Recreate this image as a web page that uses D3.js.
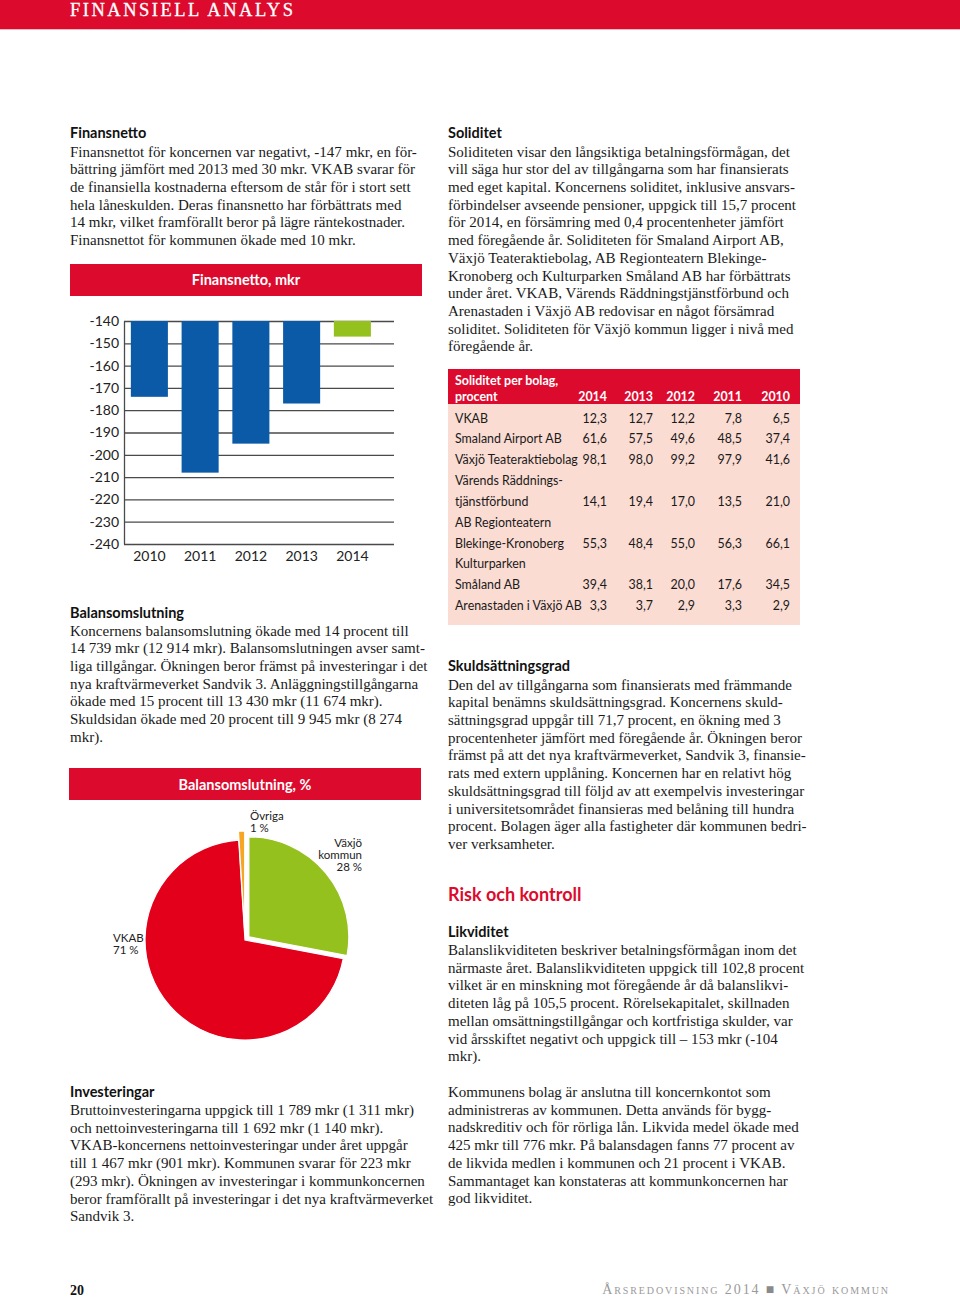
<!DOCTYPE html>
<html><head><meta charset="utf-8">
<script src="https://cdn.jsdelivr.net/npm/d3@7"></script>
<style>
html,body{margin:0;padding:0;background:#fff;}
svg{display:block;}
</style></head>
<body>
<svg id="page" width="960" height="1298"></svg>
<script>
// ---------- DATA ----------
const barYears = ["2010","2011","2012","2013","2014"];
const barValues = [-174,-208,-195,-177,-147];
const barColors = ["#0b5aa8","#0b5aa8","#0b5aa8","#0b5aa8","#95c11f"];
const yTicks = [-140,-150,-160,-170,-180,-190,-200,-210,-220,-230,-240];

const pieNames = ["Växjö kommun","VKAB","Övriga"];
const pieValues = [28,71,1];
const pieColors = ["#95c11f","#e2001a","#f6a623"];

const tableYears = ["2014","2013","2012","2011","2010"];
const tableRows = [
  ["VKAB"],
  ["Smaland Airport AB"],
  ["Växjö Teateraktiebolag"],
  ["Värends Räddnings-"],
  ["tjänstförbund"],
  ["AB Regionteatern"],
  ["Blekinge-Kronoberg"],
  ["Kulturparken"],
  ["Småland AB"],
  ["Arenastaden i Växjö AB"]
];
const tableValues = [
  ["12,3","12,7","12,2","7,8","6,5"],
  ["61,6","57,5","49,6","48,5","37,4"],
  ["98,1","98,0","99,2","97,9","41,6"],
  null,
  ["14,1","19,4","17,0","13,5","21,0"],
  null,
  ["55,3","48,4","55,0","56,3","66,1"],
  null,
  ["39,4","38,1","20,0","17,6","34,5"],
  ["3,3","3,7","2,9","3,3","2,9"]
];

const txtFinansnetto = [
"Finansnettot för koncernen var negativt, -147 mkr, en för-",
"bättring jämfört med 2013 med 30 mkr. VKAB svarar för",
"de finansiella kostnaderna eftersom de står för i stort sett",
"hela låneskulden. Deras finansnetto har förbättrats med",
"14 mkr, vilket framförallt beror på lägre räntekostnader.",
"Finansnettot för kommunen ökade med 10 mkr."];
const txtSoliditet = [
"Soliditeten visar den långsiktiga betalningsförmågan, det",
"vill säga hur stor del av tillgångarna som har finansierats",
"med eget kapital. Koncernens soliditet, inklusive ansvars-",
"förbindelser avseende pensioner, uppgick till 15,7 procent",
"för 2014, en försämring med 0,4 procentenheter jämfört",
"med föregående år. Soliditeten för Smaland Airport AB,",
"Växjö Teateraktiebolag, AB Regionteatern Blekinge-",
"Kronoberg och Kulturparken Småland AB har förbättrats",
"under året. VKAB, Värends Räddningstjänstförbund och",
"Arenastaden i Växjö AB redovisar en något försämrad",
"soliditet. Soliditeten för Växjö kommun ligger i nivå med",
"föregående år."];
const txtBalans = [
"Koncernens balansomslutning ökade med 14 procent till",
"14 739 mkr (12 914 mkr). Balansomslutningen avser samt-",
"liga tillgångar. Ökningen beror främst på investeringar i det",
"nya kraftvärmeverket Sandvik 3. Anläggningstillgångarna",
"ökade med 15 procent till 13 430 mkr (11 674 mkr).",
"Skuldsidan ökade med 20 procent till 9 945 mkr (8 274",
"mkr)."];
const txtSkuld = [
"Den del av tillgångarna som finansierats med främmande",
"kapital benämns skuldsättningsgrad. Koncernens skuld-",
"sättningsgrad uppgår till 71,7 procent, en ökning med 3",
"procentenheter jämfört med föregående år. Ökningen beror",
"främst på att det nya kraftvärmeverket, Sandvik 3, finansie-",
"rats med extern upplåning. Koncernen har en relativt hög",
"skuldsättningsgrad till följd av att exempelvis investeringar",
"i universitetsområdet finansieras med belåning till hundra",
"procent. Bolagen äger alla fastigheter där kommunen bedri-",
"ver verksamheter."];
const txtLikviditet = [
"Balanslikviditeten beskriver betalningsförmågan inom det",
"närmaste året. Balanslikviditeten uppgick till 102,8 procent",
"vilket är en minskning mot föregående år då balanslikvi-",
"diteten låg på 105,5 procent. Rörelsekapitalet, skillnaden",
"mellan omsättningstillgångar och kortfristiga skulder, var",
"vid årsskiftet negativt och uppgick till – 153 mkr (-104",
"mkr)."];
const txtInvest = [
"Bruttoinvesteringarna uppgick till 1 789 mkr (1 311 mkr)",
"och nettoinvesteringarna till 1 692 mkr (1 140 mkr).",
"VKAB-koncernens nettoinvesteringar under året uppgår",
"till 1 467 mkr (901 mkr). Kommunen svarar för 223 mkr",
"(293 mkr). Ökningen av investeringar i kommunkoncernen",
"beror framförallt på investeringar i det nya kraftvärmeverket",
"Sandvik 3."];
const txtKonto = [
"Kommunens bolag är anslutna till koncernkontot som",
"administreras av kommunen. Detta används för bygg-",
"nadskreditiv och för rörliga lån. Likvida medel ökade med",
"425 mkr till 776 mkr. På balansdagen fanns 77 procent av",
"de likvida medlen i kommunen och 21 procent i VKAB.",
"Sammantaget kan konstateras att kommunkoncernen har",
"god likviditet."];

// ---------- STYLE ----------
const RED = "#dc0a2d";
const SERIF = "'Liberation Serif','DejaVu Serif',serif";
const SANS = "Lato,'Noto Sans',sans-serif";
const svg = d3.select("#page");

function measure(text, font, size, weight){
  const t = svg.append("text").attr("font-family",font).attr("font-size",size)
    .attr("font-weight",weight||"normal").text(text);
  const w = t.node().getComputedTextLength(); t.remove(); return w;
}
const bodySize = 14 * 347 / measure(txtFinansnetto[0], SERIF, 14);
const LINE = 17.72;

// ---------- HEADER ----------
svg.append("rect").attr("x",0).attr("y",0).attr("width",960).attr("height",29).attr("fill",RED);
svg.append("rect").attr("x",0).attr("y",29).attr("width",960).attr("height",1).attr("fill","#f0b8c0");
svg.append("text").attr("x",70).attr("y",15.5).attr("fill","#fff")
  .attr("font-family",SERIF).attr("font-size",18.5).attr("letter-spacing",2.5)
  .attr("stroke","#fff").attr("stroke-width",0.3)
  .text("FINANSIELL ANALYS");

// ---------- TEXT BLOCKS ----------
function heading(x,y,t,opts){
  opts=opts||{};
  svg.append("text").attr("x",x).attr("y",y).attr("font-family",SANS)
    .attr("font-weight",700).attr("font-size",opts.size||14.5)
    .attr("fill",opts.color||"#111").text(t);
}
function para(x,y,lines){
  const g = svg.append("g").attr("font-family",SERIF).attr("font-size",bodySize).attr("fill","#1a1a1a");
  g.selectAll("text").data(lines).join("text")
    .attr("x",x).attr("y",(d,i)=>y+i*LINE).text(d=>d);
}
heading(70,138,"Finansnetto");          para(70,156.5,txtFinansnetto);
heading(448,138,"Soliditet");           para(448,156.5,txtSoliditet);
heading(70,617.5,"Balansomslutning");   para(70,635.5,txtBalans);
heading(448,671,"Skuldsättningsgrad");  para(448,689.5,txtSkuld);
heading(448,901,"Risk och kontroll",{size:18,color:RED});
heading(448,936.5,"Likviditet");        para(448,955,txtLikviditet);
heading(70,1097,"Investeringar");       para(70,1115,txtInvest);
para(448,1097,txtKonto);

// ---------- BAR CHART ----------
svg.append("rect").attr("x",70).attr("y",264).attr("width",352).attr("height",32).attr("fill",RED);
svg.append("text").attr("x",246).attr("y",285).attr("text-anchor","middle").attr("fill","#fff")
  .attr("font-family",SANS).attr("font-weight",700).attr("font-size",14.5).text("Finansnetto, mkr");

const y = d3.scaleLinear().domain([-140,-240]).range([321,544]);
const x = d3.scaleBand().domain(barYears).range([124,377.75]).paddingInner(0.27).paddingOuter(0.135);
const plotRight = 394;

const gy = svg.append("g").attr("transform","translate(124,0)")
  .call(d3.axisLeft(y).tickValues(yTicks).tickSize(-(plotRight-124)).tickSizeOuter(0).tickPadding(5).tickFormat(d=>String(d)));
gy.select(".domain").attr("stroke","#4a4a4a").attr("stroke-width",1.3);
gy.selectAll(".tick line").attr("stroke","#4a4a4a").attr("stroke-width",1.3);
gy.selectAll(".tick text").attr("font-family",SANS).attr("font-size",14).attr("fill","#222");

svg.append("g").selectAll("rect").data(barValues).join("rect")
  .attr("x",(d,i)=>x(barYears[i])).attr("width",x.bandwidth())
  .attr("y",y(-140)).attr("height",d=>y(d)-y(-140))
  .attr("fill",(d,i)=>barColors[i]);

const gx = svg.append("g").attr("transform","translate(0,547)")
  .call(d3.axisBottom(x).tickSize(0).tickPadding(4));
gx.select(".domain").remove();
gx.selectAll(".tick text").attr("font-family",SANS).attr("font-size",14).attr("fill","#222");

// ---------- PIE CHART ----------
svg.append("rect").attr("x",69).attr("y",768).attr("width",352).attr("height",32).attr("fill",RED);
svg.append("text").attr("x",245).attr("y",789.5).attr("text-anchor","middle").attr("fill","#fff")
  .attr("font-family",SANS).attr("font-weight",700).attr("font-size",14.5).text("Balansomslutning, %");

const cx = 245, cy = 940, R = 100;
const explode = [5,0,9];
const pie = d3.pie().sort(null).value(d=>d).startAngle(0).endAngle(2*Math.PI);
const arcs = pie(pieValues);
const arc = d3.arc().innerRadius(0).outerRadius(R);
svg.append("g").attr("transform",`translate(${cx},${cy})`)
  .selectAll("path").data(arcs).join("path")
  .attr("transform",(d,i)=>{const m=(d.startAngle+d.endAngle)/2;return `translate(${Math.sin(m)*explode[i]},${-Math.cos(m)*explode[i]})`;})
  .attr("d",arc).attr("fill",(d,i)=>pieColors[i]).attr("stroke","#fff").attr("stroke-width",1.2);

const pieLabelLines = [["Växjö","kommun",pieValues[0]+" %"],["VKAB",pieValues[1]+" %"],["Övriga",pieValues[2]+" %"]];
const pieLabelPos = [{x:362,y:847,anchor:"end"},{x:113,y:942,anchor:"start"},{x:250,y:820,anchor:"start"}];
const pl = svg.append("g").attr("font-family",SANS).attr("font-size",11.5).attr("fill","#222");
pieLabelLines.forEach((lines,i)=>{
  const p = pieLabelPos[i];
  pl.append("g").selectAll("text").data(lines).join("text")
    .attr("x",p.x).attr("y",(d,j)=>p.y+j*12.2).attr("text-anchor",p.anchor).text(d=>d);
});

// ---------- TABLE ----------
const tableSize = 12.5 * 123 / measure("Växjö Teateraktiebolag", SANS, 12.5);
svg.append("rect").attr("x",448).attr("y",369).attr("width",352).attr("height",35).attr("fill",RED);
svg.append("rect").attr("x",448).attr("y",404).attr("width",352).attr("height",221).attr("fill","#fadcd3");
const colRight = [607,653,695,742,790];
const th = svg.append("g").attr("font-family",SANS).attr("font-weight",700).attr("font-size",tableSize).attr("fill","#fff");
th.append("text").attr("x",455).attr("y",385).text("Soliditet per bolag,");
th.append("text").attr("x",455).attr("y",401).text("procent");
th.selectAll("text.yr").data(tableYears).join("text").attr("class","yr")
  .attr("x",(d,i)=>colRight[i]).attr("y",401).attr("text-anchor","end").text(d=>d);
const tb = svg.append("g").attr("font-family",SANS).attr("font-size",tableSize).attr("fill","#1a1a1a");
tableRows.forEach((r,i)=>{
  const yy = 422.5 + i*20.85;
  tb.append("text").attr("x",455).attr("y",yy).text(r[0]);
  if(tableValues[i]){
    tb.append("g").selectAll("text").data(tableValues[i]).join("text")
      .attr("x",(d,j)=>colRight[j]).attr("y",yy).attr("text-anchor","end").text(d=>d);
  }
});

// ---------- FOOTER ----------
svg.append("text").attr("x",70).attr("y",1295).attr("font-family",SERIF).attr("font-weight",700)
  .attr("font-size",14).attr("fill","#111").text("20");
const ft = svg.append("text").attr("x",890).attr("y",1294).attr("text-anchor","end")
  .attr("font-family",SERIF).attr("font-size",14).attr("fill","#9a9a9a").attr("letter-spacing",1.9)
  .style("font-variant","small-caps");
ft.append("tspan").text("Årsredovisning 2014 ");
ft.append("tspan").attr("fill","#8a8a8a").text("■");
ft.append("tspan").text(" Växjö kommun");
</script>
</body></html>
